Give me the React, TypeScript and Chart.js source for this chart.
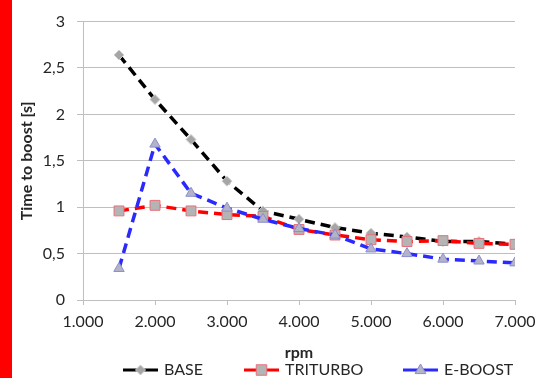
import React, { useEffect, useRef } from 'react';
import { Chart, registerables } from 'chart.js';
Chart.register(...registerables);

const rpm = [1500, 2000, 2500, 3000, 3500, 4000, 4500, 5000, 5500, 6000, 6500, 7000];
const baseValues = [2.64, 2.16, 1.73, 1.28, 0.96, 0.87, 0.78, 0.72, 0.68, 0.63, 0.63, 0.6];
const triturboValues = [0.96, 1.02, 0.96, 0.92, 0.9, 0.76, 0.7, 0.65, 0.63, 0.64, 0.61, 0.6];
const eboostValues = [0.34, 1.68, 1.15, 0.99, 0.87, 0.77, 0.7, 0.55, 0.5, 0.44, 0.42, 0.4];
const seriesNames = ['BASE', 'TRITURBO', 'E-BOOST'];
const xTitle = 'rpm';
const yTitle = 'Time to boost [s]';

const FONT = 'Lato, "Open Sans", sans-serif';
const TEXT = '#262626';

function drawMarker(ctx: CanvasRenderingContext2D, style: string, x: number, y: number, r: number, fill: string, stroke: string) {
  ctx.save();
  ctx.fillStyle = fill;
  ctx.strokeStyle = stroke;
  ctx.lineWidth = 1;
  ctx.setLineDash([]);
  ctx.beginPath();
  if (style === 'rectRot') {
    ctx.moveTo(x, y - r);
    ctx.lineTo(x + r, y);
    ctx.lineTo(x, y + r);
    ctx.lineTo(x - r, y);
    ctx.closePath();
  } else if (style === 'rect') {
    ctx.rect(x - r * 0.75, y - r * 0.75, r * 1.5, r * 1.5);
  } else {
    ctx.moveTo(x, y - r);
    ctx.lineTo(x + r * 0.9, y + r * 0.6);
    ctx.lineTo(x - r * 0.9, y + r * 0.6);
    ctx.closePath();
  }
  ctx.fill();
  ctx.stroke();
  ctx.restore();
}

const legendPlugin = {
  id: 'customLegend',
  afterDraw(chart: any) {
    const ctx: CanvasRenderingContext2D = chart.ctx;
    const starts = [123, 244, 403];
    const y = 370;
    chart.data.datasets.forEach((ds: any, i: number) => {
      const x0 = starts[i];
      ctx.save();
      ctx.strokeStyle = ds.borderColor;
      ctx.lineWidth = 3;
      ctx.setLineDash([]);
      ctx.beginPath();
      ctx.moveTo(x0, y);
      ctx.lineTo(x0 + 35, y);
      ctx.stroke();
      drawMarker(ctx, ds.pointStyle, x0 + 17.5, y, ds.pointRadius, ds.pointBackgroundColor, ds.pointBorderColor);
      ctx.fillStyle = TEXT;
      ctx.font = '16px ' + FONT;
      ctx.textBaseline = 'middle';
      ctx.textAlign = 'left';
      ctx.fillText(ds.label, x0 + 41, y);
      ctx.restore();
    });
  },
};

function fmtThousands(v: number) {
  return Math.round(v).toString().replace(/\B(?=(\d{3})+(?!\d))/g, '.');
}

export default function App() {
  const ref = useRef<HTMLCanvasElement>(null);
  useEffect(() => {
    if (!ref.current) return;
    const mk = (vals: number[]) => rpm.map((x, i) => ({ x, y: vals[i] }));
    const chart = new Chart(ref.current, {
      type: 'line',
      data: {
        datasets: [
          {
            label: seriesNames[0],
            data: mk(baseValues),
            borderColor: '#000000',
            borderWidth: 3.5,
            borderDash: [10, 6],
            pointStyle: 'rectRot',
            pointRadius: 5,
            pointBackgroundColor: '#a6a6a6',
            pointBorderColor: '#d0d0d0',
            pointBorderWidth: 1,
            order: 2,
          },
          {
            label: seriesNames[1],
            data: mk(triturboValues),
            borderColor: '#ff0000',
            borderWidth: 3.5,
            borderDash: [10, 6],
            pointStyle: 'rect',
            pointRadius: 7,
            pointBackgroundColor: '#b4b4b4',
            pointBorderColor: '#e8707c',
            pointBorderWidth: 1,
            order: 1,
          },
          {
            label: seriesNames[2],
            data: mk(eboostValues),
            borderColor: '#2a2aff',
            borderWidth: 3.5,
            borderDash: [10, 6],
            pointStyle: 'triangle',
            pointRadius: 6,
            pointBackgroundColor: '#b4b4c8',
            pointBorderColor: '#8c8cd0',
            pointBorderWidth: 1,
            order: 0,
          },
        ] as any,
      },
      options: {
        animation: false,
        responsive: false,
        devicePixelRatio: 1,
        layout: { padding: { left: 12, right: 30, top: 13, bottom: 16 } },
        plugins: { legend: { display: false }, tooltip: { enabled: false } },
        scales: {
          x: {
            type: 'linear',
            min: 1000,
            max: 7000,
            ticks: {
              stepSize: 1000,
              color: TEXT,
              font: { family: FONT, size: 16 },
              padding: 7,
              maxRotation: 0,
              callback: (v: any) => fmtThousands(Number(v)),
            },
            grid: { display: true, drawOnChartArea: false, drawTicks: true, tickLength: 5, color: '#bfbfbf' },
            border: { display: true, color: '#bfbfbf' },
            title: { display: true, text: xTitle, color: TEXT, font: { family: FONT, size: 16, weight: 'bold' }, padding: { top: 2, bottom: 0 } },
            afterFit: (s: any) => { s.height = 62; },
          },
          y: {
            min: 0,
            max: 3,
            ticks: {
              stepSize: 0.5,
              color: TEXT,
              font: { family: FONT, size: 16 },
              padding: 12,
              callback: (v: any) => String(Number(v)).replace('.', ','),
            },
            grid: { color: '#bfbfbf', tickLength: 6, drawTicks: true },
            border: { display: true, color: '#bfbfbf' },
            title: { display: true, text: yTitle, color: TEXT, font: { family: FONT, size: 16, weight: 'bold' }, padding: { top: 5, bottom: 0 } },
            afterFit: (s: any) => { s.width = 71; },
          },
        },
      } as any,
      plugins: [legendPlugin],
    });
    return () => chart.destroy();
  }, []);
  return (
    <div style={{ position: 'fixed', left: 0, top: 0, width: 545, height: 378, background: '#ffffff' }}>
      <canvas ref={ref} width={545} height={378} style={{ position: 'absolute', left: 0, top: 0 }} />
      <div style={{ position: 'absolute', left: 0, top: 0, width: 12, height: 378, background: '#ff0000' }} />
    </div>
  );
}
